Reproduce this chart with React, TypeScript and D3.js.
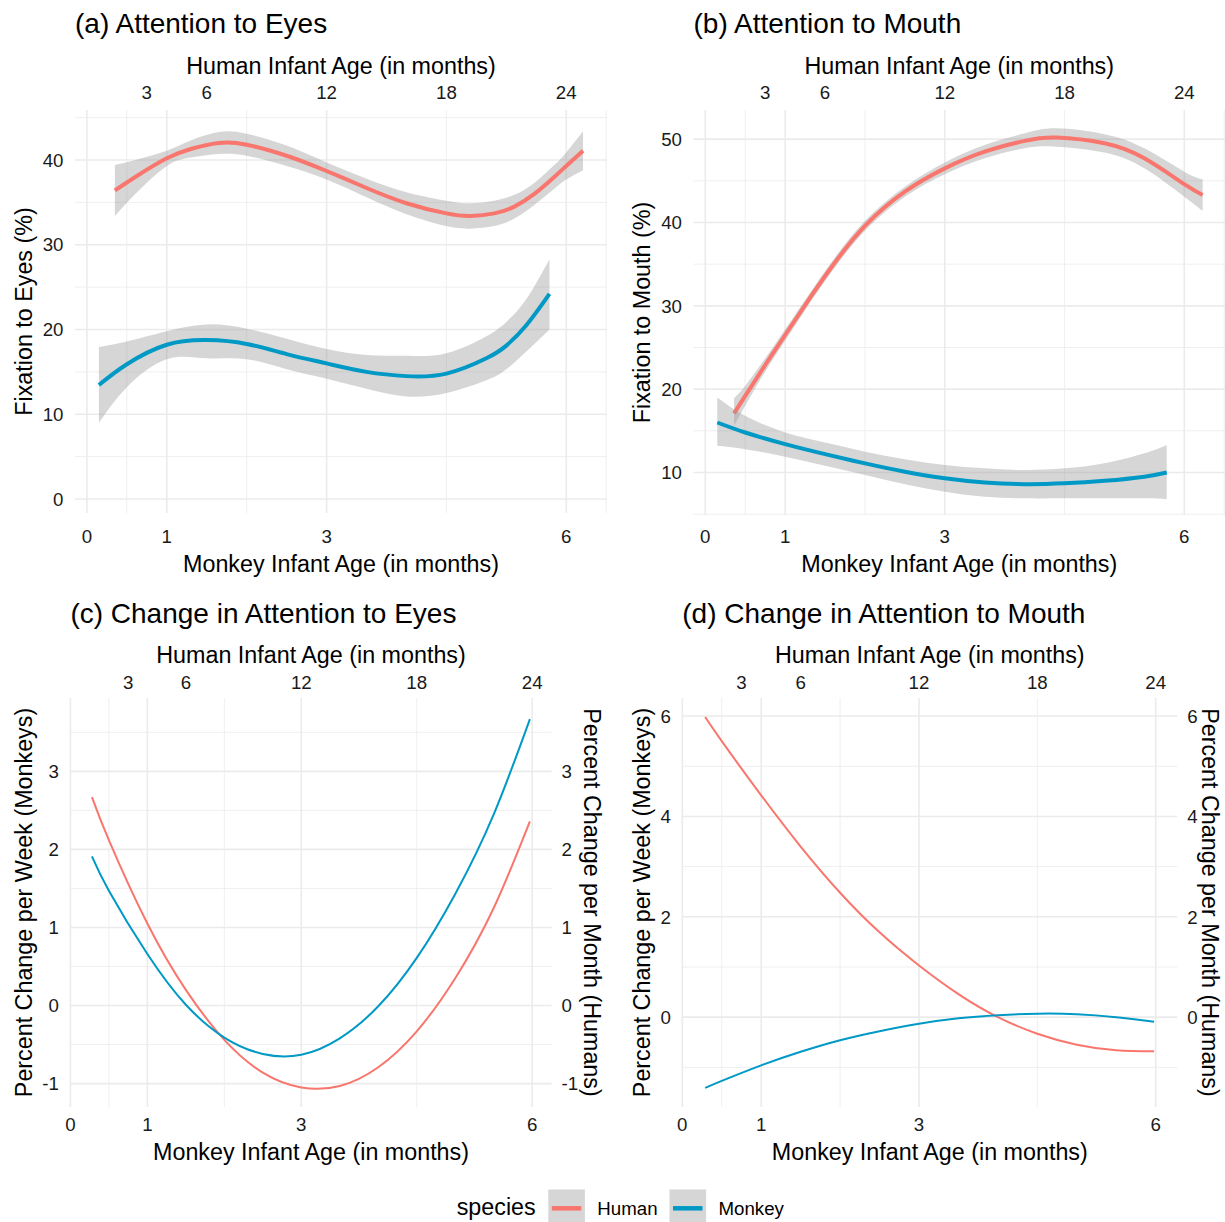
import { useEffect, useRef } from 'react';
import * as d3 from 'd3';

const FONT = '"Liberation Sans", Arial, Helvetica, sans-serif';

const species = ['Human', 'Monkey'];
const speciesColors = ['#F8766D', '#0099C6'];

const monkeyAgeTicks = [0, 1, 3, 6];
const humanAgeTicks = [3, 6, 12, 18, 24];

// (a) fixation to eyes, smooth fit + 95% band
const eyesTicks = [0, 10, 20, 30, 40];
const eyesHumanAge = [0.35, 0.64, 1.0, 1.3, 1.65, 2.0, 2.5, 3.0, 3.5, 4.0, 4.5, 4.8, 5.1, 5.35, 5.6, 5.85, 6.0, 6.21];
const eyesHumanFit = [36.4, 38.2, 40.2, 41.3, 42.0, 41.8, 40.5, 38.7, 36.7, 34.9, 33.7, 33.4, 33.7, 34.5, 36.0, 38.0, 39.3, 41.1];
const eyesHumanLow = [33.4, 36.3, 39.3, 40.3, 40.7, 40.5, 39.3, 37.7, 35.6, 33.6, 32.2, 31.9, 32.2, 33.1, 34.7, 36.6, 37.7, 38.8];
const eyesHumanHigh = [39.4, 40.1, 41.1, 42.3, 43.3, 43.1, 41.7, 39.7, 37.8, 36.2, 35.2, 34.9, 35.2, 35.9, 37.3, 39.4, 40.9, 43.4];
const eyesMonkeyAge = [0.15, 0.5, 1.0, 1.5, 2.0, 2.5, 3.0, 3.5, 4.0, 4.5, 5.0, 5.25, 5.5, 5.79];
const eyesMonkeyFit = [13.45, 15.9, 18.2, 18.75, 18.3, 17.1, 16.0, 15.0, 14.5, 14.8, 16.6, 18.1, 20.5, 24.2];
const eyesMonkeyLow = [9.0, 13.2, 16.5, 16.6, 16.5, 15.3, 14.2, 13.0, 12.1, 12.5, 14.0, 15.3, 17.4, 20.0];
const eyesMonkeyHigh = [17.95, 18.6, 19.8, 20.6, 20.1, 18.9, 17.7, 17.0, 16.9, 17.2, 19.2, 20.9, 23.6, 28.3];

// (b) fixation to mouth
const mouthTicks = [10, 20, 30, 40, 50];
const mouthHumanAge = [0.36, 0.5, 0.75, 1.0, 1.3, 1.6, 2.0, 2.5, 3.0, 3.5, 4.0, 4.4, 5.0, 5.5, 6.0, 6.23];
const mouthHumanFit = [17.1, 19.2, 22.9, 26.5, 30.8, 34.9, 39.6, 43.7, 46.5, 48.5, 49.8, 50.2, 49.5, 47.7, 44.6, 43.3];
const mouthHumanLow = [15.6, 18.0, 22.1, 25.8, 30.2, 34.3, 39.0, 43.1, 45.8, 47.7, 48.9, 49.1, 48.4, 46.5, 43.1, 41.4];
const mouthHumanHigh = [18.9, 20.4, 23.7, 27.2, 31.4, 35.5, 40.2, 44.3, 47.2, 49.3, 50.7, 51.3, 50.6, 48.9, 46.1, 45.2];
const mouthMonkeyAge = [0.15, 0.5, 1.0, 1.5, 2.0, 2.5, 3.0, 3.5, 4.0, 4.5, 5.0, 5.5, 5.78];
const mouthMonkeyFit = [16.0, 14.8, 13.4, 12.2, 11.1, 10.1, 9.3, 8.8, 8.6, 8.7, 9.0, 9.5, 10.0];
const mouthMonkeyLow = [13.2, 12.8, 11.9, 10.8, 9.7, 8.6, 7.7, 7.1, 6.9, 6.9, 6.9, 6.9, 6.8];
const mouthMonkeyHigh = [19.0, 16.8, 14.8, 13.6, 12.5, 11.6, 10.9, 10.5, 10.3, 10.5, 11.1, 12.3, 13.3];

// (c) change in attention to eyes
const eyesRateTicks = [-1, 0, 1, 2, 3];
const eyesRateAge = [0.28, 0.5, 1.0, 1.5, 2.0, 2.5, 3.0, 3.5, 4.0, 4.5, 5.0, 5.5, 5.97];
const eyesRateHuman = [2.67, 2.12, 1.05, 0.2, -0.44, -0.86, -1.05, -1.03, -0.79, -0.33, 0.35, 1.25, 2.36];
const eyesRateMonkey = [1.91, 1.47, 0.66, 0.01, -0.41, -0.62, -0.63, -0.42, -0.01, 0.61, 1.43, 2.45, 3.67];

// (d) change in attention to mouth
const mouthRateTicks = [0, 2, 4, 6];
const mouthRateAge = [0.29, 0.5, 1.0, 1.5, 2.0, 2.5, 3.0, 3.5, 4.0, 4.5, 5.0, 5.5, 5.98];
const mouthRateHuman = [5.98, 5.5, 4.42, 3.4, 2.48, 1.69, 1.03, 0.46, 0.0, -0.33, -0.55, -0.66, -0.68];
const mouthRateMonkey = [-1.41, -1.27, -0.96, -0.69, -0.46, -0.28, -0.13, -0.02, 0.04, 0.07, 0.06, 0.0, -0.09];

const topRow = { title: 33, topTitle: 74, topTicks: 99.3, bottomTicks: 542.7, bottomTitle: 571.7 };
const bottomRow = { title: 622.7, topTitle: 663.3, topTicks: 689.3, bottomTicks: 1131, bottomTitle: 1160 };

const panels = [
  {
    title: '(a) Attention to Eyes', yTitle: 'Fixation to Eyes (%)', row: topRow,
    box: { left: 75, right: 607, top: 110, bottom: 513 }, xDom: [-0.149, 6.51], yDom: [-1.65, 45.9],
    yTicks: eyesTicks, yTitleX: 31.6, lineWidth: 4,
    series: [
      { age: eyesHumanAge, fit: eyesHumanFit, low: eyesHumanLow, high: eyesHumanHigh },
      { age: eyesMonkeyAge, fit: eyesMonkeyFit, low: eyesMonkeyLow, high: eyesMonkeyHigh },
    ],
  },
  {
    title: '(b) Attention to Mouth', yTitle: 'Fixation to Mouth (%)', row: topRow,
    box: { left: 693.5, right: 1225, top: 110, bottom: 515 }, xDom: [-0.148, 6.51], yDom: [4.9, 53.5],
    yTicks: mouthTicks, yTitleX: 650, lineWidth: 4,
    series: [
      { age: mouthHumanAge, fit: mouthHumanFit, low: mouthHumanLow, high: mouthHumanHigh },
      { age: mouthMonkeyAge, fit: mouthMonkeyFit, low: mouthMonkeyLow, high: mouthMonkeyHigh },
    ],
  },
  {
    title: '(c) Change in Attention to Eyes', yTitle: 'Percent Change per Week (Monkeys)', row: bottomRow,
    box: { left: 70.4, right: 551.6, top: 698, bottom: 1107 }, xDom: [0, 6.252], yDom: [-1.3, 3.94],
    yTicks: eyesRateTicks, yTitleX: 31.6, lineWidth: 2,
    rightTitle: 'Percent Change per Month (Humans)', rightTitleX: 583.5,
    series: [
      { age: eyesRateAge, fit: eyesRateHuman },
      { age: eyesRateAge, fit: eyesRateMonkey },
    ],
  },
  {
    title: '(d) Change in Attention to Mouth', yTitle: 'Percent Change per Week (Monkeys)', row: bottomRow,
    box: { left: 682.3, right: 1177.3, top: 698, bottom: 1107 }, xDom: [0, 6.274], yDom: [-1.79, 6.36],
    yTicks: mouthRateTicks, yTitleX: 650, lineWidth: 2,
    rightTitle: 'Percent Change per Month (Humans)', rightTitleX: 1201.5,
    series: [
      { age: mouthRateAge, fit: mouthRateHuman },
      { age: mouthRateAge, fit: mouthRateMonkey },
    ],
  },
];

// ggplot style minor breaks: midpoints between majors, one step beyond each end
function minorBreaks(ticks: number[]) {
  const step = ticks[1] - ticks[0];
  const ext = [ticks[0] - step, ...ticks, ticks[ticks.length - 1] + step];
  return d3.pairs(ext).map(([a, b]) => (a + b) / 2);
}

function inside(v: number, dom: number[]) {
  return v >= dom[0] - 1e-6 && v <= dom[1] + 1e-6;
}

function drawPanel(svg: any, p: any) {
  const { left, right, top, bottom } = p.box;
  const x = d3.scaleLinear().domain(p.xDom).range([left, right]);
  const xHuman = d3.scaleLinear().domain(p.xDom.map((d: number) => d * 4)).range([left, right]);
  const y = d3.scaleLinear().domain(p.yDom).range([bottom, top]);
  const g = svg.append('g');

  const grid = g.append('g').attr('stroke', '#EBEBEB');
  minorBreaks(p.yTicks).filter(v => inside(v, p.yDom)).forEach(v => {
    grid.append('line').attr('x1', left).attr('x2', right).attr('y1', y(v)).attr('y2', y(v)).attr('stroke-width', 0.8);
  });
  minorBreaks(monkeyAgeTicks).filter(v => inside(v, p.xDom)).forEach(v => {
    grid.append('line').attr('y1', top).attr('y2', bottom).attr('x1', x(v)).attr('x2', x(v)).attr('stroke-width', 0.8);
  });
  p.yTicks.forEach((v: number) => {
    grid.append('line').attr('x1', left).attr('x2', right).attr('y1', y(v)).attr('y2', y(v)).attr('stroke-width', 1.6);
  });
  monkeyAgeTicks.forEach(v => {
    grid.append('line').attr('y1', top).attr('y2', bottom).attr('x1', x(v)).attr('x2', x(v)).attr('stroke-width', 1.6);
  });

  p.series.forEach((s: any, i: number) => {
    const idx = d3.range(s.age.length);
    if (s.low) {
      const band = d3.area<number>()
        .x(k => x(s.age[k]))
        .y0(k => y(s.low[k]))
        .y1(k => y(s.high[k]))
        .curve(d3.curveNatural);
      g.append('path').attr('d', band(idx)).attr('fill', '#999999').attr('fill-opacity', 0.4);
    }
    const line = d3.line<number>()
      .x(k => x(s.age[k]))
      .y(k => y(s.fit[k]))
      .curve(d3.curveNatural);
    g.append('path').attr('d', line(idx)).attr('fill', 'none')
      .attr('stroke', speciesColors[i]).attr('stroke-width', p.lineWidth);
  });

  const text = (tx: number, ty: number, str: string, size: number, anchor = 'start') =>
    g.append('text').attr('x', tx).attr('y', ty).attr('font-family', FONT).attr('font-size', size)
      .attr('text-anchor', anchor).attr('fill', '#000').text(str);

  const mid = (left + right) / 2;
  text(left, p.row.title, p.title, 28);
  text(mid, p.row.topTitle, 'Human Infant Age (in months)', 23.3, 'middle');
  text(mid, p.row.bottomTitle, 'Monkey Infant Age (in months)', 23.3, 'middle');
  humanAgeTicks.forEach(v => text(xHuman(v), p.row.topTicks, String(v), 18.7, 'middle').attr('fill', '#1a1a1a'));
  monkeyAgeTicks.forEach(v => text(x(v), p.row.bottomTicks, String(v), 18.7, 'middle').attr('fill', '#1a1a1a'));
  p.yTicks.forEach((v: number) => {
    text(left - 11.5, y(v) + 6.7, String(v), 18.7, 'end').attr('fill', '#1a1a1a');
    if (p.rightTitle) text(right + 10, y(v) + 6.7, String(v), 18.7, 'start').attr('fill', '#1a1a1a');
  });
  const cy = (top + bottom) / 2;
  text(0, 0, p.yTitle, 23.3, 'middle').attr('transform', `translate(${p.yTitleX},${cy}) rotate(-90)`);
  if (p.rightTitle) {
    text(0, 0, p.rightTitle, 23.3, 'middle').attr('transform', `translate(${p.rightTitleX},${cy}) rotate(90)`);
  }
}

function drawLegend(svg: any) {
  const g = svg.append('g');
  g.append('text').attr('x', 456.7).attr('y', 1215).attr('font-family', FONT).attr('font-size', 23.3)
    .attr('fill', '#000').text('species');
  const keyX = [548.3, 669.5];
  species.forEach((name, i) => {
    g.append('rect').attr('x', keyX[i]).attr('y', 1189.5).attr('width', 36.6).attr('height', 36.6)
      .attr('fill', '#999999').attr('fill-opacity', 0.4);
    g.append('line').attr('x1', keyX[i] + 3.5).attr('x2', keyX[i] + 33).attr('y1', 1208.3).attr('y2', 1208.3)
      .attr('stroke', speciesColors[i]).attr('stroke-width', 4.5);
    g.append('text').attr('x', keyX[i] + 49).attr('y', 1215).attr('font-family', FONT).attr('font-size', 18.7)
      .attr('fill', '#000').text(name);
  });
}

export default function App() {
  const svgRef = useRef<SVGSVGElement>(null);

  useEffect(() => {
    if (!svgRef.current) return;
    const svg = d3.select(svgRef.current);
    svg.selectAll('*').remove();
    panels.forEach(p => drawPanel(svg, p));
    drawLegend(svg);
  }, []);

  return (
    <svg ref={svgRef} width={1225} height={1222}
      style={{ position: 'absolute', left: 0, top: 0, background: '#fff' }} />
  );
}
